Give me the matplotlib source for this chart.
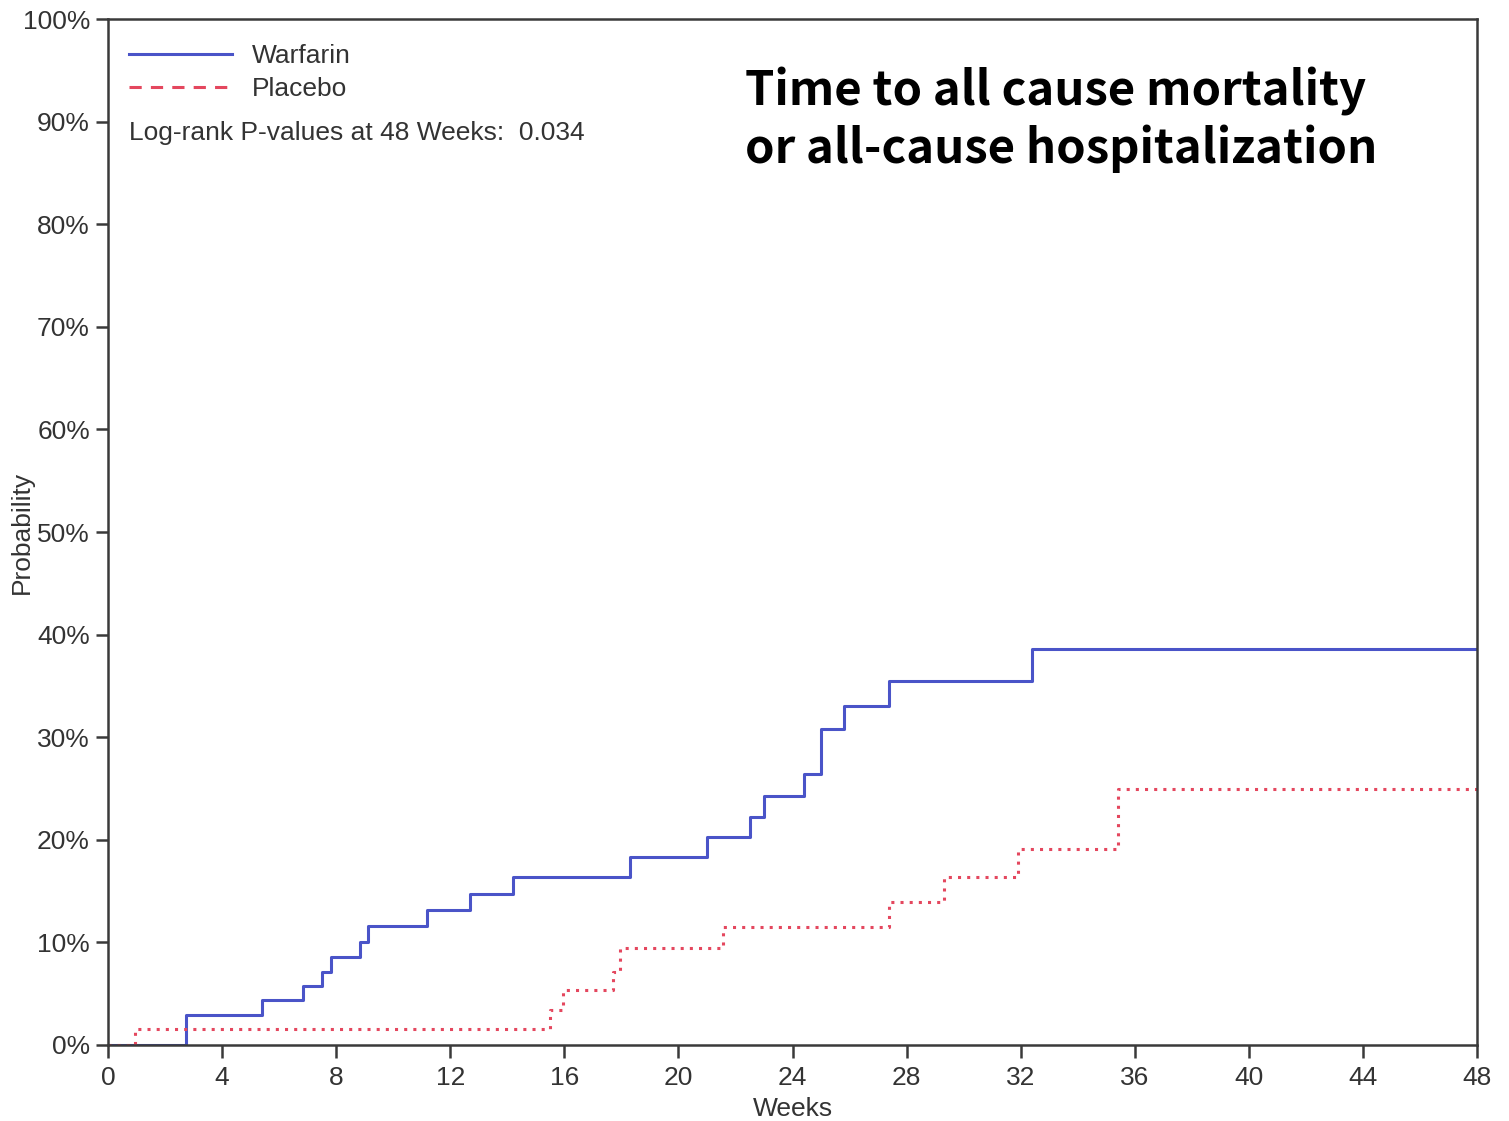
"""
Kaplan-Meier style cumulative event curves: Warfarin vs Placebo.
"""

import matplotlib.pyplot as plt
from matplotlib.lines import Line2D
from matplotlib.ticker import FuncFormatter

# step data (weeks, cumulative probability in %)
warfarin_weeks = [0, 2.73, 5.4, 6.84, 7.5, 7.8, 8.84, 9.1, 11.2, 12.7, 14.2,
                  18.3, 21.0, 22.5, 23.0, 24.4, 25.0, 25.8, 27.4, 32.4, 48]
warfarin_prob = [0, 2.9, 4.4, 5.75, 7.1, 8.6, 10.0, 11.6, 13.2, 14.7, 16.4,
                 18.3, 20.3, 22.2, 24.3, 26.4, 30.8, 33.0, 35.5, 38.6, 38.6]

placebo_weeks = [0, 0.95, 15.5, 15.95, 17.7, 17.95, 21.56, 27.4, 29.3,
                 31.9, 35.4, 48]
placebo_prob = [0, 1.56, 3.4, 5.36, 7.1, 9.5, 11.5, 13.9, 16.4, 19.1,
                24.95, 24.95]

x_ticks = list(range(0, 49, 4))
y_ticks = list(range(0, 101, 10))

BLUE = "#4a54c8"
RED = "#e4475e"
AXIS = "#3a3a3a"
TEXT = "#333333"

plt.rcParams["font.family"] = ["Liberation Sans", "DejaVu Sans"]

fig = plt.figure(figsize=(15.09, 11.21), dpi=100)
ax = fig.add_axes([0.0716, 0.0678, 0.9072, 0.9152])

ax.step(warfarin_weeks, warfarin_prob, where="post", color=BLUE, lw=2.2)
ax.step(placebo_weeks, placebo_prob, where="post", color=RED, lw=2.2,
        linestyle=(0, (1, 2)))

ax.set_xlim(0, 48)
ax.set_ylim(0, 100)
ax.set_xticks(x_ticks)
ax.set_yticks(y_ticks)
ax.yaxis.set_major_formatter(FuncFormatter(lambda v, _: f"{v:.0f}%"))
ax.tick_params(direction="out", length=9, width=1.8, color=AXIS,
               labelsize=19, labelcolor=TEXT, pad=4)
ax.tick_params(axis="x", pad=6)
for spine in ax.spines.values():
    spine.set_color(AXIS)
    spine.set_linewidth(1.8)

ax.set_xlabel("Weeks", fontsize=19, color=TEXT, labelpad=5)
ax.set_ylabel("Probability", fontsize=19, color=TEXT, labelpad=-8)

# legend with dashed handle for placebo, as in the original
handles = [
    Line2D([], [], color=BLUE, lw=2.2),
    Line2D([], [], color=RED, lw=2.2, linestyle=(0, (4, 3))),
]
ax.legend(handles, ["Warfarin", "Placebo"], loc="upper left",
          bbox_to_anchor=(-0.002, 0.999), frameon=False, fontsize=19,
          handlelength=3.9, handletextpad=0.75, labelspacing=0.35,
          labelcolor=TEXT)

ax.text(0.015, 0.889, "Log-rank P-values at 48 Weeks:  0.034",
        transform=ax.transAxes, fontsize=19, color=TEXT,
        va="center", ha="left")

fig.text(0.494, 0.893, "Time to all cause mortality\nor all-cause hospitalization",
         fontsize=34, fontweight="bold", ha="left", va="center",
         family=["Noto Sans CJK KR", "DejaVu Sans"], linespacing=1.2)

fig.savefig("out.png", dpi=100)
